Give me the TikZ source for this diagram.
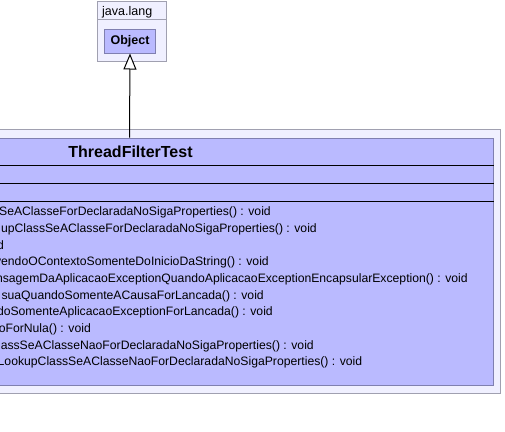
\documentclass[tikz,border=0pt]{standalone}
\usepackage{fontspec}
\setmainfont{Liberation Sans}
\usetikzlibrary{arrows.meta}
\definecolor{pkgfill}{RGB}{240,240,255}
\definecolor{pkgline}{RGB}{160,160,176}
\definecolor{clsfill}{RGB}{186,186,255}
\definecolor{clsline}{RGB}{128,128,176}
\begin{document}
\begin{tikzpicture}[x=1pt,y=-1pt,
  pkg/.style={draw=pkgline, fill=pkgfill, line width=1pt, inner sep=0pt},
  cls/.style={draw=clsline, fill=clsfill, line width=1pt, inner sep=0pt},
  meth/.style={font=\fontsize{12.2}{14}\selectfont, inner sep=0pt, anchor=base east},
  sepline/.style={draw=black, line width=1pt},
  inherit/.style={-{Triangle[fill=white,length=16pt,width=13pt]}, line width=1pt, draw=black}]
\useasboundingbox (0,0) rectangle (505,431);
\clip (0,0) rectangle (505,431);
% java.lang package
\node[pkg, minimum width=69pt, minimum height=60pt, anchor=north west] (jl) at (97,1) {};
\draw[pkgline, line width=1pt] (jl.west |- 0,19) -- (jl.east |- 0,19);
\node[anchor=base west, inner sep=0pt, font=\fontsize{12.5}{14}\selectfont] (jlt) at (102,15) {java.lang};
\node[cls, minimum width=51pt, minimum height=24pt, font=\bfseries\fontsize{12.5}{14}\selectfont] (obj) at (130,41) {Object};
% outer package
\node[pkg, minimum width=751pt, minimum height=264pt, anchor=north east] (pk) at (501,129) {};
% class box
\node[cls, minimum width=728pt, minimum height=247.5pt, anchor=north east] (cls) at (494,137.5) {};
\node[anchor=base, inner sep=0pt, font=\bfseries\fontsize{16}{18}\selectfont] (title) at (130.5,157.7) {ThreadFilterTest};
\draw[sepline] (cls.west |- 0,165.3) -- (cls.east |- 0,165.3);
\draw[sepline] (cls.west |- 0,183.3) -- (cls.east |- 0,183.3);
\draw[sepline] (cls.west |- 0,201.3) -- (cls.east |- 0,201.3);
% methods
\node[meth] (m1) at (271,215.7) {SeAClasseForDeclaradaNoSigaProperties() : void};
\node[meth] (m2) at (317,232.4) {upClassSeAClasseForDeclaradaNoSigaProperties() : void};
\node[meth] (m3) at (4,249.0) {d};
\node[meth] (m4) at (269,265.7) {vendoOContextoSomenteDoInicioDaString() : void};
\node[meth] (m5) at (468,282.4) {nsagemDaAplicacaoExceptionQuandoAplicacaoExceptionEncapsularException() : void};
\node[meth] (m6) at (264,299.0) {suaQuandoSomenteACausaForLancada() : void};
\node[meth] (m7) at (273,315.7) {doSomenteAplicacaoExceptionForLancada() : void};
\node[meth] (m8) at (91,332.4) {oForNula() : void};
\node[meth] (m9) at (314,349.0) {assSeAClasseNaoForDeclaradaNoSigaProperties() : void};
\node[meth] (m10) at (362.5,365.7) {LookupClassSeAClasseNaoForDeclaradaNoSigaProperties() : void};
% inheritance
\draw[inherit] (cls.north) -- (obj.south);
\end{tikzpicture}
\end{document}
